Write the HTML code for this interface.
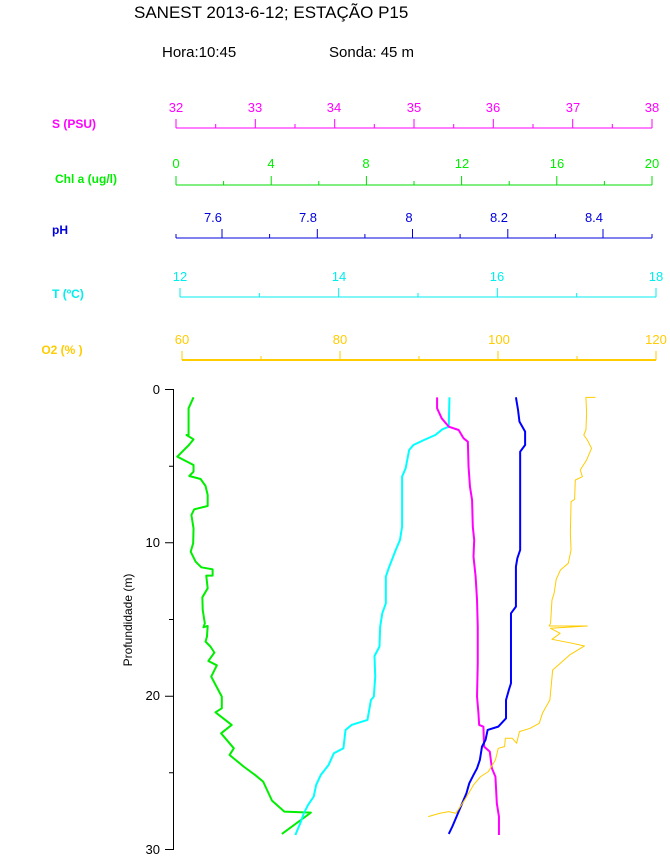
<!DOCTYPE html>
<html><head><meta charset="utf-8"><style>
body{margin:0;background:#fff;}
svg{display:block;font-family:"Liberation Sans",sans-serif;}
</style></head><body>
<svg width="670" height="857" xmlns="http://www.w3.org/2000/svg">
<text x="134" y="18" font-size="17">SANEST 2013-6-12; ESTAÇÃO P15</text>
<text x="162" y="57" font-size="15">Hora:10:45</text>
<text x="329" y="57" font-size="15">Sonda: 45 m</text>

<!-- S -->
<g stroke="#f0f" fill="none" stroke-width="1">
<line x1="176" y1="128" x2="652" y2="128"/>
<path d="M176 128v-9M255.3 128v-9M334.7 128v-9M414 128v-9M493.3 128v-9M572.7 128v-9M652 128v-9M215.7 128v-4M295 128v-4M374.3 128v-4M453.7 128v-4M533 128v-4M612.3 128v-4"/>
</g>
<g fill="#f0f" font-size="13" text-anchor="middle">
<text x="176" y="112">32</text><text x="255" y="112">33</text><text x="334" y="112">34</text><text x="414" y="112">35</text><text x="493" y="112">36</text><text x="573" y="112">37</text><text x="652" y="112">38</text>
<text x="74" y="128" font-weight="bold" font-size="12">S (PSU)</text>
</g>
<!-- Chl -->
<g stroke="#0d0" fill="none">
<line x1="176" y1="185" x2="652" y2="185"/>
<path d="M176 185v-9M271.2 185v-9M366.4 185v-9M461.6 185v-9M556.8 185v-9M652 185v-9M223.6 185v-4M318.8 185v-4M414 185v-4M509.2 185v-4M604.4 185v-4"/>
</g>
<g fill="#0e0" font-size="13" text-anchor="middle">
<text x="176" y="168">0</text><text x="271" y="168">4</text><text x="366" y="168">8</text><text x="462" y="168">12</text><text x="557" y="168">16</text><text x="652" y="168">20</text>
<text x="86" y="183" font-weight="bold" font-size="12">Chl a (ug/l)</text>
</g>
<!-- pH -->
<g stroke="#00d" fill="none">
<line x1="176" y1="238" x2="652" y2="238"/>
<path d="M222 238v-9M317.3 238v-9M412.5 238v-9M507.8 238v-9M603 238v-9M176 238v-4M269.6 238v-4M364.9 238v-4M460.1 238v-4M555.4 238v-4M652 238v-4"/>
</g>
<g fill="#00d" font-size="13" text-anchor="middle">
<text x="213" y="222">7.6</text><text x="308" y="222">7.8</text><text x="409" y="222">8</text><text x="499" y="222">8.2</text><text x="594" y="222">8.4</text>
<text x="60" y="234" font-weight="bold" font-size="12">pH</text>
</g>
<!-- T -->
<g stroke="#0ee" fill="none">
<line x1="180" y1="297" x2="656" y2="297"/>
<path d="M180 297v-9M338.7 297v-9M497.3 297v-9M656 297v-9M259.3 297v-4M418 297v-4M576.7 297v-4"/>
</g>
<g fill="#0ee" font-size="13" text-anchor="middle">
<text x="180" y="281">12</text><text x="339" y="281">14</text><text x="497" y="281">16</text><text x="656" y="281">18</text>
<text x="68" y="298" font-weight="bold" font-size="12">T (ºC)</text>
</g>
<!-- O2 -->
<g stroke="#fc0" fill="none">
<line x1="182" y1="360" x2="656" y2="360" stroke-width="2"/>
<path d="M182 360v-9M340 360v-9M498 360v-9M656 360v-9M261 360v-4M419 360v-4M577 360v-4"/>
</g>
<g fill="#fc0" font-size="13" text-anchor="middle">
<text x="182" y="344">60</text><text x="340" y="344">80</text><text x="499" y="344">100</text><text x="656" y="344">120</text>
<text x="62" y="354" font-weight="bold" font-size="12">O2 (% )</text>
</g>

<!-- depth axis -->
<g stroke="#000" fill="none">
<line x1="173.5" y1="389.5" x2="173.5" y2="849.5"/>
<path d="M165 389.5h9M165 542.8h9M165 696.2h9M165 849.5h9M169 466.2h5M169 619.5h5M169 772.8h5"/>
</g>
<g font-size="13" text-anchor="end">
<text x="160" y="394">0</text><text x="160" y="547">10</text><text x="160" y="700">20</text><text x="160" y="854">30</text>
</g>
<text transform="translate(132,620) rotate(-90)" font-size="12" text-anchor="middle">Profundidade (m)</text>

<g transform="translate(120,380) scale(0.3535,0.3333)" fill="none" stroke-linejoin="round">
<polyline vector-effect="non-scaling-stroke" stroke="#0e0" stroke-width="2" points="208,52 194,85 194,165 188,165 208,178 195,195 162,230 208,255 208,275 196,288 228,297 242,318 248,345 248,378 210,388 202,405 208,445 207,490 200,515 214,545 230,562 262,568 262,587 244,587 248,625 233,652 234,690 240,730 236,742 248,738 246,770 242,785 256,800 267,818 250,843 274,856 258,890 288,950 288,985 270,997 316,1035 286,1060 322,1105 310,1125 350,1160 382,1185 405,1205 430,1262 465,1295 540,1298 458,1362"/>
<polyline vector-effect="non-scaling-stroke" stroke="#0ff" stroke-width="2" points="932,52 930,140 912,148 892,165 860,180 830,195 818,210 808,265 798,290 798,440 792,480 780,510 760,565 752,590 752,670 742,700 736,740 734,800 720,828 722,890 718,950 710,960 700,1020 655,1035 638,1050 632,1105 605,1120 590,1155 568,1185 555,1215 548,1250 532,1275 520,1300 510,1330 496,1365"/>
<polyline vector-effect="non-scaling-stroke" stroke="#f0f" stroke-width="2" points="897,52 897,85 910,115 930,140 958,150 972,175 984,185 986,260 990,320 996,360 998,440 1002,480 1000,530 1006,590 1010,660 1012,740 1012,850 1010,950 1014,1000 1016,1035 1028,1040 1030,1100 1046,1115 1052,1165 1062,1190 1066,1270 1072,1310 1072,1365"/>
<polyline vector-effect="non-scaling-stroke" stroke="#00f" stroke-width="2" points="1120,52 1126,90 1130,125 1138,140 1146,155 1146,195 1132,215 1132,510 1124,535 1120,560 1120,680 1106,700 1106,910 1100,930 1092,960 1092,1015 1070,1040 1040,1050 1034,1080 1024,1100 1018,1140 1010,1165 1000,1185 988,1210 980,1240 970,1265 956,1300 948,1320 940,1340 930,1362"/>
<polyline vector-effect="non-scaling-stroke" stroke="#fc0" stroke-width="1" points="1345,52 1318,52 1320,100 1318,150 1312,165 1322,180 1334,205 1320,240 1302,270 1308,290 1288,300 1286,358 1276,365 1274,460 1276,510 1268,550 1246,570 1234,598 1228,640 1222,660 1218,730 1214,738 1322,738 1218,745 1245,760 1222,778 1280,790 1314,798 1272,825 1240,855 1224,870 1216,960 1195,1000 1186,1030 1160,1045 1130,1055 1122,1090 1110,1075 1090,1075 1088,1100 1070,1105 1062,1140 1042,1175 1020,1190 1000,1215 975,1260 950,1300 930,1295 905,1300 872,1310"/>
</g>
</svg>
</body></html>
